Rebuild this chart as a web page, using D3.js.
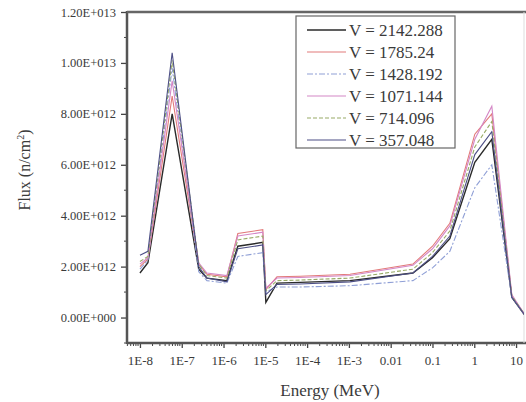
<!DOCTYPE html>
<html lang="en">
<head>
	<title>flux</title>
	<meta charset="utf-8" />
	<script src="https://cdnjs.cloudflare.com/ajax/libs/d3/7.8.5/d3.min.js"></script>
	<style>
		body { margin: 0; background: #fff; }
		svg text { font-family: "Liberation Serif", "DejaVu Serif", serif; fill: #3a3a3a; }
	</style>
</head>
<body>
	<svg width="526" height="402"></svg>
	<script>
		// energy groups (MeV)
		let energy = [1e-8, 1.55e-8, 5.9e-8, 2.55e-7, 4e-7, 1.2e-6, 2.2e-6, 8.7e-6, 1.03e-5, 1.9e-5, 6.8e-5, 1.06e-3, 3.4e-2, 0.1, 0.26, 1.03, 2.63, 7.9, 17];

		// flux values, units of 1E12 n/cm2
		let v2142 = [1.75, 2.15, 8.0, 1.9, 1.55, 1.45, 2.8, 2.95, 0.6, 1.35, 1.38, 1.45, 1.75, 2.35, 3.1, 6.1, 7.0, 0.8, 0.05];
		let v1785 = [2.0, 2.3, 8.7, 2.1, 1.7, 1.6, 3.3, 3.45, 1.1, 1.6, 1.62, 1.7, 2.1, 2.8, 3.7, 7.2, 8.0, 0.85, 0.05];
		let v1428 = [1.9, 2.25, 9.8, 1.8, 1.45, 1.35, 2.4, 2.55, 1.0, 1.2, 1.2, 1.25, 1.45, 1.95, 2.6, 5.1, 6.0, 0.8, 0.05];
		let v1071 = [2.1, 2.35, 9.3, 2.15, 1.75, 1.65, 3.2, 3.35, 1.15, 1.55, 1.57, 1.65, 2.05, 2.7, 3.6, 7.0, 8.3, 0.9, 0.05];
		let v714 = [2.2, 2.4, 10.1, 2.1, 1.65, 1.55, 3.05, 3.2, 1.05, 1.45, 1.47, 1.55, 1.9, 2.55, 3.4, 6.7, 7.7, 0.85, 0.05];
		let v357 = [2.45, 2.6, 10.4, 2.0, 1.55, 1.4, 2.7, 2.85, 0.9, 1.3, 1.32, 1.4, 1.75, 2.4, 3.2, 6.4, 7.3, 0.8, 0.05];

		let seriesNames = ["V = 2142.288", "V = 1785.24", "V = 1428.192", "V = 1071.144", "V = 714.096", "V = 357.048"];
		let seriesValues = [v2142, v1785, v1428, v1071, v714, v357];

		let xTicks = [1e-8, 1e-7, 1e-6, 1e-5, 1e-4, 1e-3, 0.01, 0.1, 1, 10];
		let xTickLabels = ["1E-8", "1E-7", "1E-6", "1E-5", "1E-4", "1E-3", "0.01", "0.1", "1", "10"];
		let yTicks = [0, 2e12, 4e12, 6e12, 8e12, 1e13, 1.2e13];
		let yTickLabels = ["0.00E+000", "2.00E+012", "4.00E+012", "6.00E+012", "8.00E+012", "1.00E+013", "1.20E+013"];

		let colors = ["#2a2a2a", "#e27a7a", "#8f9fd6", "#d487c6", "#98aa66", "#4d4f86"];
		let dashes = [null, null, "6,2,2,2", null, "4,2", null];

		let mLeft = 127, mRight = 524, mTop = 12, mBottom = 343;
		let svg = d3.select('svg');

		let x = d3.scaleLog()
			.domain([Math.pow(10, -8.31), Math.pow(10, 1.19)])
			.range([mLeft, mRight]);
		let y = d3.scaleLinear()
			.domain([-1e12, 1.2e13])
			.range([mBottom, mTop]);

		svg.append('clipPath').attr('id', 'plot')
			.append('rect')
			.attr('x', mLeft).attr('y', mTop)
			.attr('width', mRight - mLeft).attr('height', mBottom - mTop);

		// minor x ticks
		let minorX = [];
		for (let d = -9; d <= 1; d++) {
			for (let m = 2; m <= 9; m++) {
				let v = m * Math.pow(10, d);
				if (x(v) > mLeft && x(v) < mRight) minorX.push(v);
			}
		}

		let xAxis = d3.axisBottom(x)
			.tickValues(xTicks)
			.tickFormat((d, i) => xTickLabels[i])
			.tickSize(5)
			.tickPadding(8);
		let gx = svg.append('g')
			.attr('transform', `translate(0,${mBottom})`)
			.call(xAxis);
		gx.selectAll('.tick text').style('font-size', '13px').attr('fill', '#3a3a3a');
		gx.selectAll('.tick line').attr('stroke', '#444').attr('stroke-width', 1.3);
		gx.select('.domain').remove();
		gx.selectAll('line.minor')
			.data(minorX)
			.enter()
			.append('line')
			.attr('class', 'minor')
			.attr('x1', d => x(d)).attr('x2', d => x(d))
			.attr('y1', 0).attr('y2', 3)
			.attr('stroke', '#444')
			.attr('stroke-width', 1);

		let yAxis = d3.axisLeft(y)
			.tickValues(yTicks)
			.tickFormat((d, i) => yTickLabels[i])
			.tickSize(6)
			.tickPadding(5);
		let gy = svg.append('g')
			.attr('transform', `translate(${mLeft},0)`)
			.call(yAxis);
		gy.selectAll('.tick text').style('font-size', '12.5px').attr('fill', '#3a3a3a');
		gy.selectAll('.tick line').attr('stroke', '#444').attr('stroke-width', 1.3);
		gy.select('.domain').remove();
		gy.selectAll('line.minor')
			.data(d3.range(-1e12, 1.2e13, 2e12))
			.enter()
			.append('line')
			.attr('class', 'minor')
			.attr('y1', d => y(d)).attr('y2', d => y(d))
			.attr('x1', 0).attr('x2', -3)
			.attr('stroke', '#444')
			.attr('stroke-width', 1);

		// frame
		svg.append('line')
			.attr('x1', mLeft).attr('x2', mLeft)
			.attr('y1', mTop - 1).attr('y2', mBottom + 1)
			.attr('stroke', '#555').attr('stroke-width', 2.5);
		svg.append('line')
			.attr('x1', mLeft).attr('x2', 526)
			.attr('y1', mBottom).attr('y2', mBottom)
			.attr('stroke', '#555').attr('stroke-width', 2.5);
		svg.append('line')
			.attr('x1', mLeft).attr('x2', 526)
			.attr('y1', mTop).attr('y2', mTop)
			.attr('stroke', '#666').attr('stroke-width', 2.5);
		svg.append('line')
			.attr('x1', mRight).attr('x2', mRight)
			.attr('y1', mTop).attr('y2', mBottom)
			.attr('stroke', '#ddd').attr('stroke-width', 1);

		let line = d3.line()
			.x((d, i) => x(energy[i]))
			.y(d => y(d * 1e12));

		svg.append('g')
			.attr('clip-path', 'url(#plot)')
			.selectAll('path')
			.data(seriesValues)
			.enter()
			.append('path')
			.attr('d', d => line(d))
			.attr('fill', 'none')
			.attr('stroke', (d, i) => colors[i])
			.attr('stroke-width', (d, i) => i == 0 ? 1.4 : 1.1)
			.attr('stroke-dasharray', (d, i) => dashes[i]);

		// legend
		let lg = svg.append('g');
		lg.append('rect')
			.attr('x', 296).attr('y', 16)
			.attr('width', 159).attr('height', 132)
			.attr('fill', '#fff')
			.attr('stroke', '#666')
			.attr('stroke-width', 1.2);
		let rows = lg.selectAll('g.row')
			.data(seriesNames)
			.enter()
			.append('g')
			.attr('class', 'row')
			.attr('transform', (d, i) => `translate(0,${30 + i * 22})`);
		rows.append('line')
			.attr('x1', 307).attr('x2', 346)
			.attr('y1', 0).attr('y2', 0)
			.attr('stroke', (d, i) => colors[i])
			.attr('stroke-width', (d, i) => i == 0 ? 1.4 : 1.1)
			.attr('stroke-dasharray', (d, i) => dashes[i]);
		rows.append('text')
			.attr('x', 349)
			.attr('y', 6)
			.style('font-size', '17px')
			.text(d => d);

		// axis titles
		svg.append('text')
			.attr('x', 330)
			.attr('y', 396)
			.attr('text-anchor', 'middle')
			.style('font-size', '17px')
			.text('Energy (MeV)');
		let yt = svg.append('text')
			.attr('transform', 'translate(30,170) rotate(-90)')
			.attr('text-anchor', 'middle')
			.style('font-size', '16px');
		yt.append('tspan').text('Flux (n/cm');
		yt.append('tspan').attr('dy', -6).style('font-size', '10px').text('2');
		yt.append('tspan').attr('dy', 6).text(')');
	</script>
</body>
</html>
